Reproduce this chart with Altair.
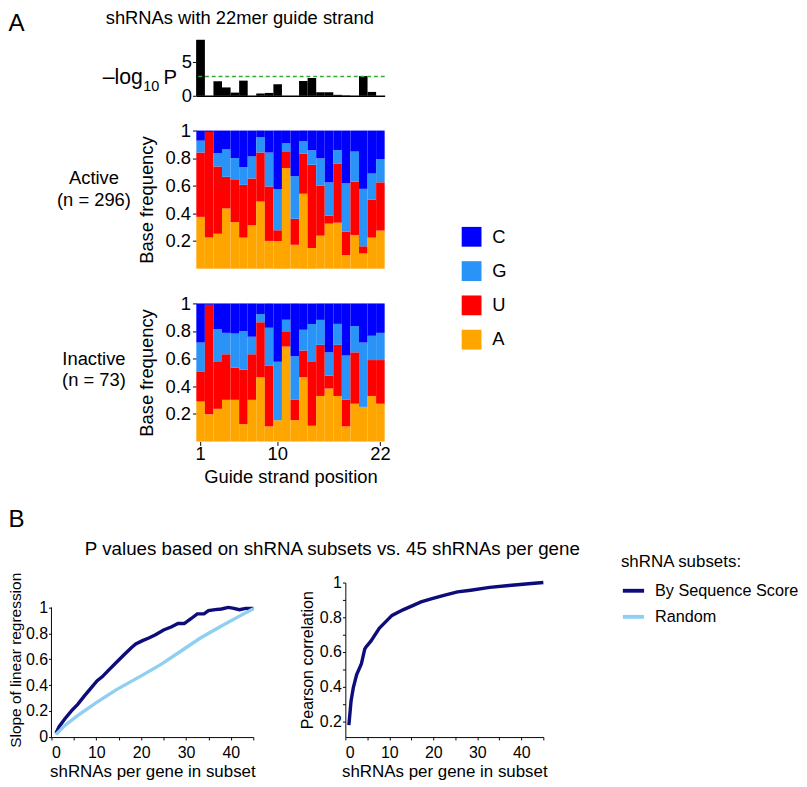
import altair as alt
import pandas as pd

FONT = "Liberation Sans"

# ---------------- Panel A data ----------------
positions = list(range(1, 23))
neglog10p = [8.25, 0, 2.14, 1.23, 0.47, 2.23, 0, 0.33, 0.42, 1.71, 0, 0,
             2.19, 2.61, 0.52, 0.52, 0.14, 0.05, 0, 2.9, 0.57, 0]
threshold = 2.83

legend_bases = ["C", "G", "U", "A"]
base_colors = ["#0000ff", "#2a93f8", "#ff0000", "#ffa500"]
stack_rank = {"A": 0, "U": 1, "G": 2, "C": 3}

active_A = [.375, .225, .253, .436, .337, .225, .314, .487, .201, .201, .728,
            .173, .543, .150, .239, .326, .333, .098, .244, .110, .225, .276]
active_U = [.466, .765, .487, .229, .305, .382, .339, .354, .394, .078, .117,
            .188, .291, .602, .363, .058, .426, .169, .386, .052, .276, .349]
active_G = [.086, .000, .096, .199, .159, .128, .160, .110, .246, .297, .064,
            .309, .089, .105, .197, .241, .100, .351, .218, .416, .188, .169]
active_C = [.073, .010, .164, .136, .199, .265, .187, .049, .159, .424, .091,
            .330, .077, .143, .201, .375, .141, .382, .152, .422, .311, .206]

inactive_A = [.290, .197, .237, .302, .302, .126, .302, .466, .110, .155, .689,
              .155, .466, .115, .330, .384, .330, .110, .274, .251, .330, .274]
inactive_U = [.218, .793, .339, .330, .234, .394, .330, .398, .438, .000, .110,
              .147, .194, .461, .370, .094, .370, .192, .372, .000, .260, .316]
inactive_G = [.209, .000, .237, .155, .246, .279, .127, .059, .276, .423, .082,
              .316, .150, .276, .181, .168, .152, .321, .190, .466, .176, .197]
inactive_C = [.283, .010, .187, .213, .218, .201, .241, .077, .176, .422, .119,
              .382, .190, .148, .119, .354, .148, .377, .164, .283, .234, .213]

# ---------------- Panel B data ----------------
seq_x = [1, 1.7, 3, 4.5, 5.9, 7.3, 8.8, 10.2, 11.3, 12.7, 14.5, 16.3, 17.8, 18.8,
         20.3, 21.7, 23.2, 25, 26.8, 28.2, 29.6, 31.1, 32.5, 34, 35, 36.5, 37.9,
         39.4, 40.4, 41.9, 43.3, 45]
seq_y = [0.03, 0.08, 0.142, 0.204, 0.254, 0.316, 0.378, 0.435, 0.465, 0.515,
         0.577, 0.639, 0.689, 0.719, 0.744, 0.764, 0.789, 0.826, 0.851, 0.876,
         0.876, 0.913, 0.95, 0.95, 0.975, 0.983, 0.988, 1.0, 0.995, 0.983, 0.993, 0.993]
rand_x = [1, 3, 5.9, 10, 14.5, 20.3, 24.6, 28.9, 33.2, 37.6, 41.9, 45]
rand_y = [0.02, 0.09, 0.167, 0.266, 0.366, 0.478, 0.565, 0.664, 0.764, 0.851, 0.933, 0.99]
series_names = ["By Sequence Score", "Random"]
series_colors = ["#0c0c7a", "#8fcff2"]

pear_x = [0.8, 1.3, 1.8, 2.55, 3.65, 4.4, 4.7, 5.8, 7.7, 8.8, 10.6, 13.1, 15.3,
          17.2, 19.7, 22.6, 25.5, 28.5, 32.8, 37.2, 41.6, 45]
pear_y = [0.18, 0.32, 0.394, 0.469, 0.533, 0.617, 0.63, 0.663, 0.737, 0.765,
          0.811, 0.843, 0.867, 0.889, 0.907, 0.928, 0.946, 0.956, 0.972, 0.983,
          0.993, 1.0]


def label(text, x, y, size, align="left", baseline="alphabetic", angle=0):
    return alt.Chart(pd.DataFrame({"t": [text]})).mark_text(
        fontSize=size, align=align, baseline=baseline, color="black", font=FONT,
        angle=angle
    ).encode(text="t:N", x=alt.value(x), y=alt.value(y))


# ---------------- Panel A charts ----------------
df_p = pd.DataFrame({"pos": positions, "p": neglog10p})
band_x = alt.Scale(paddingInner=0, paddingOuter=0)

p_bars = alt.Chart(df_p).mark_bar(color="black").encode(
    x=alt.X("pos:O", scale=band_x,
            axis=alt.Axis(labels=False, ticks=False, title=None,
                          domainColor="black", domainWidth=1.5)),
    y=alt.Y("p:Q", scale=alt.Scale(domain=[0, 8.25], nice=False),
            axis=alt.Axis(values=[0, 5], title=None, tickSize=4, labelPadding=1,
                          labelFontSize=19, labelOverlap=False)),
)
p_rule = alt.Chart(pd.DataFrame({"t": [threshold]})).mark_rule(
    color="#33aa33", strokeDash=[4, 3], strokeWidth=1.5
).encode(y="t:Q")

top_chart = alt.layer(
    p_bars, p_rule,
    label("shRNAs with 22mer guide strand", 45, -16.5, 19, align="center"),
    label("–log", -97, 45.7, 22),
    label("10", -55, 53.5, 15),
    label("P", -34, 45.7, 21),
).properties(width=195, height=58)


def freq_frame(A, U, G, C):
    rows = []
    for i, p in enumerate(positions):
        for b, vals in (("A", A), ("U", U), ("G", G), ("C", C)):
            rows.append({"pos": p, "base": b, "freq": vals[i], "rank": stack_rank[b]})
    return pd.DataFrame(rows)


def stacked(df, show_x, show_legend):
    legend = None
    if show_legend:
        legend = alt.Legend(orient="none", legendX=274.5, legendY=99.5, title=None,
                            symbolType="square", symbolSize=420, symbolStrokeWidth=0,
                            labelFontSize=19, labelOffset=11, rowPadding=14.5,
                            padding=0, labelFont=FONT, labelColor="black")
    xaxis = None
    if show_x:
        xaxis = alt.Axis(values=[1, 10, 22], labelAngle=0, title="Guide strand position",
                         tickSize=4, labelPadding=0, domain=False, labelFontSize=19,
                         titleFontSize=19, titlePadding=4, titleFontWeight="normal",
                         labelOverlap=False)
    return alt.Chart(df).mark_bar().encode(
        x=alt.X("pos:O", scale=band_x, axis=xaxis),
        y=alt.Y("freq:Q", stack="zero", scale=alt.Scale(domain=[0, 1], nice=False),
                axis=alt.Axis(values=[0.2, 0.4, 0.6, 0.8, 1], format="~g",
                              title="Base frequency", titleFontSize=19,
                              titleFontWeight="normal", titlePadding=9,
                              tickSize=4, labelPadding=2, labelFontSize=19,
                              domain=False, labelOverlap=False)),
        color=alt.Color("base:N", scale=alt.Scale(domain=legend_bases, range=base_colors),
                        legend=legend),
        order=alt.Order("rank:Q"),
    )


active_chart = alt.layer(
    stacked(freq_frame(active_A, active_U, active_G, active_C), False, True),
    label("Active", -106, 55.7, 19, align="center"),
    label("(n = 296)", -106, 78.4, 19, align="center"),
).properties(width=195, height=143)

inactive_chart = alt.layer(
    stacked(freq_frame(inactive_A, inactive_U, inactive_G, inactive_C), True, False),
    label("Inactive", -106, 63.3, 19, align="center"),
    label("(n = 73)", -106, 86, 19, align="center"),
).properties(width=195, height=143)

A_stack = alt.vconcat(top_chart, active_chart, inactive_chart, spacing=36,
                      bounds="flush").resolve_scale(color="independent")

spacerA = label("A", -44.4, -9.3, 25).properties(width=1, height=1)

A_row = alt.hconcat(spacerA, A_stack, spacing=4).resolve_scale(color="independent")

# ---------------- Panel B charts ----------------
df_lines = pd.concat([
    pd.DataFrame({"n": seq_x, "v": seq_y, "series": series_names[0]}),
    pd.DataFrame({"n": rand_x, "v": rand_y, "series": series_names[1]}),
])

x_axis_B = alt.Axis(values=list(range(0, 46, 5)),
                    labelExpr="datum.value % 10 == 0 ? datum.label : ''",
                    title="shRNAs per gene in subset", titleFontSize=17.5,
                    titleFontWeight="normal", labelFontSize=16.5, tickSize=3,
                    labelPadding=5, titlePadding=2, labelOverlap=False)
y_axis_left = alt.Axis(values=[0, 0.2, 0.4, 0.6, 0.8, 1], format="~g", domain=False,
                       title="Slope of linear regression", titleFontSize=16,
                       titleFontWeight="normal", titlePadding=2, labelFontSize=16.5,
                       tickSize=3, labelPadding=1, labelOverlap=False)
x_scale_B = alt.Scale(domain=[0, 45], nice=False)
y_scale_left = alt.Scale(domain=[0, 1.192], nice=False)

left_lines = alt.Chart(df_lines).mark_line(strokeWidth=3.5).encode(
    x=alt.X("n:Q", scale=x_scale_B, axis=x_axis_B),
    y=alt.Y("v:Q", scale=y_scale_left, axis=y_axis_left),
    color=alt.Color("series:N", scale=alt.Scale(domain=series_names, range=series_colors),
                    legend=alt.Legend(orient="none", legendX=589.6, legendY=-30,
                                      title="shRNA subsets:", titleFontSize=17.5,
                                      titleFontWeight="normal", titleFont=FONT,
                                      titlePadding=8, titleColor="black",
                                      labelFontSize=16.8, labelFont=FONT,
                                      labelColor="black", symbolType="stroke",
                                      symbolSize=484, symbolStrokeWidth=4,
                                      rowPadding=5, labelOffset=9.3, padding=0)),
)
left_axisline = alt.Chart(pd.DataFrame({"x": [0], "y0": [0], "y1": [1]})).mark_rule(
    color="black", strokeWidth=1
).encode(
    x=alt.X("x:Q", scale=x_scale_B, axis=x_axis_B),
    y=alt.Y("y0:Q", scale=y_scale_left, axis=y_axis_left),
    y2="y1:Q",
)

left_chart = alt.layer(
    left_lines, left_axisline,
    label("B", -44.4, -58, 25),
    label("P values based on shRNA subsets vs. 45 shRNAs per gene", 290.8, -29, 19.4,
          align="center"),
).properties(width=209, height=160)

df_pear = pd.DataFrame({"n": pear_x, "v": pear_y})
right_chart = alt.Chart(df_pear).mark_line(strokeWidth=3.5, color=series_colors[0]).encode(
    x=alt.X("n:Q", scale=x_scale_B, axis=x_axis_B),
    y=alt.Y("v:Q", scale=alt.Scale(domain=[0.111, 1], nice=False),
            axis=alt.Axis(values=[0.2, 0.3, 0.4, 0.5, 0.6, 0.7, 0.8, 0.9, 1.0],
                          labelExpr="round(datum.value*10) % 2 == 0 ? format(datum.value, '~g') : ''",
                          title="Pearson correlation", titleFontSize=16.5,
                          titleFontWeight="normal", titlePadding=4.2, labelFontSize=16.5,
                          tickSize=3, labelPadding=1, labelOverlap=False)),
).properties(width=205, height=160)

B_row = alt.hconcat(left_chart, right_chart, spacing=95.3,
                    bounds="flush").resolve_scale(color="independent")

chart = alt.vconcat(A_row, B_row, spacing=22).resolve_scale(
    color="independent"
).properties(
    padding={"left": 0, "top": -13, "right": 0, "bottom": 0}
).configure(font=FONT).configure_view(stroke=None).configure_axis(
    labelColor="black", titleColor="black", domainColor="black", tickColor="black",
    labelFont=FONT, titleFont=FONT, grid=False
)

chart.save("out.html", embed_options={"renderer": "svg", "actions": False})
